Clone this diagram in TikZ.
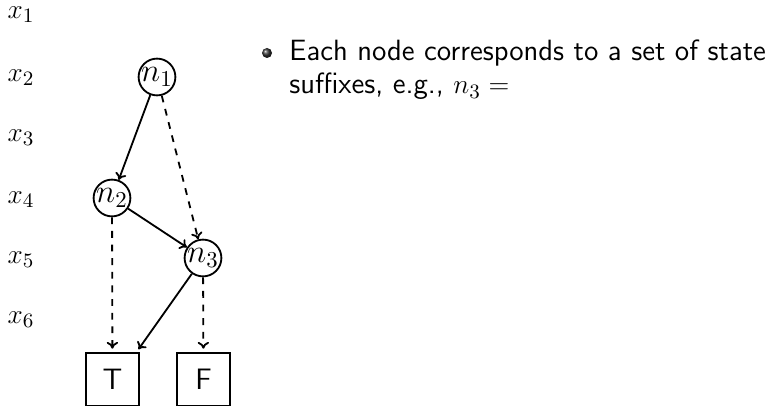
\documentclass[tikz,border=0pt]{standalone}
\usetikzlibrary{arrows.meta}
\begin{document}
\begin{tikzpicture}[x=0.44pt,y=-0.44pt,
  bdd/.style={circle,draw,thick,inner sep=0pt,minimum size=15pt,font=\fontsize{14}{16}\selectfont},
  term/.style={rectangle,draw,thick,minimum size=23.3pt,inner sep=0pt,font=\fontsize{13}{15}\selectfont\sffamily},
  lab/.style={font=\fontsize{13}{15}\selectfont},
  txtsty/.style={anchor=base west,inner sep=0pt,font=\fontsize{12.9}{15}\selectfont\sffamily},
  hi/.style={thick,-{To[length=3pt,width=5pt]}},
  lo/.style={thick,dashed,-{To[length=3pt,width=5pt]}}]
\useasboundingbox (0,0) rectangle (773,406);
\node[lab] (x1) at (21,15) {$x_1$};
\node[lab] (x2) at (21,78) {$x_2$};
\node[lab] (x3) at (21,138) {$x_3$};
\node[lab] (x4) at (21,200) {$x_4$};
\node[lab] (x5) at (21,260) {$x_5$};
\node[lab] (x6) at (21,320) {$x_6$};
\node[bdd] (n1) at (157,77) {$n_1$};
\node[bdd] (n2) at (112,198) {$n_2$};
\node[bdd] (n3) at (203,258) {$n_3$};
\node[term] (T) at (112.5,379.5) {T};
\node[term] (F) at (203.5,379.5) {F};
\draw[hi] (n1) -- (n2);
\draw[lo] (n1) -- (n3);
\draw[hi] (n2) -- (n3);
\draw[lo,shorten >=1.5pt] (n2) -- (T);
\draw[hi,shorten >=1.5pt] (n3) -- ([xshift=-1.5pt]T.north east);
\draw[lo,shorten >=1.5pt] (n3) -- (F);
\shade[ball color=black!80] (267,53) circle (5);
\node[txtsty] (t1) at (289,60.7) {Each node corresponds to a set of state};
\node[txtsty] (t2) at (289,94) {suffixes, e.g., $n_3 =$};
\end{tikzpicture}
\end{document}
